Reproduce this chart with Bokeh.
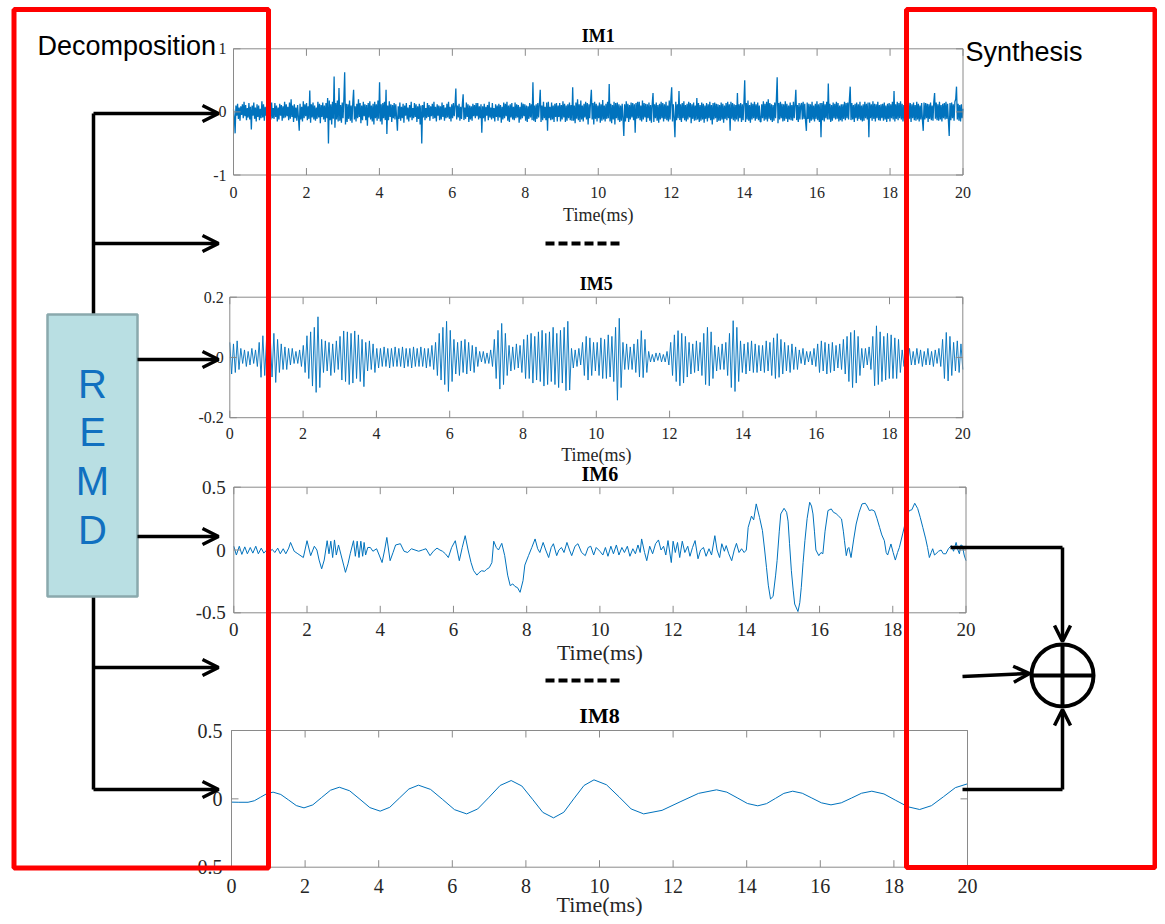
import numpy as np
from bokeh.plotting import figure
from bokeh.models import Range1d, Arrow, OpenHead
from bokeh.core.properties import value
from bokeh.embed import file_html
from bokeh.resources import INLINE

# ---------------- data ----------------
x_ticks = [0, 2, 4, 6, 8, 10, 12, 14, 16, 18, 20]
x_tick_labels = [str(v) for v in x_ticks]
x_label = "Time(ms)"

im1_title = "IM1"
im1_yticks = [-1, 0, 1]
im1_ylabels = ["-1", "0", "1"]
im1 = [
    0.04, -0.08, -0.34, 0.1, -0.06, 0.13, -0.11, 0.07, -0.14, 0.09, -0.05, 0.12, -0.1, 0.16, -0.07, 0.11, -0.13, 0.06, -0.09, 0.14, -0.12, 0.08, -0.28, 0.1, -0.06, 0.15, -0.11, 0.07, -0.15, 0.12, -0.08, 0.1, -0.13, 0.05, -0.1, 0.17, -0.09, 0.12, -0.14, 0.08, -0.06, 0.11, -0.16, 0.13, -0.07, 0.09, -0.12, 0.15, -0.1, 0.06,
    -0.11, 0.14, -0.08, 0.1, -0.15, 0.07, -0.12, 0.13, -0.06, 0.11, -0.14, 0.09, -0.1, 0.16, -0.09, 0.12, -0.07, 0.08, -0.13, 0.15, -0.11, 0.2, -0.08, 0.1, -0.16, 0.12, -0.1, 0.07, -0.14, 0.11, -0.09, -0.3, 0.13, -0.12, 0.08, -0.15, 0.17, -0.1, 0.12, -0.07, 0.14, -0.13, 0.09, -0.11, 0.34, -0.17, 0.12, -0.09, 0.15, -0.12,
    0.1, -0.14, 0.07, -0.11, 0.16, -0.09, 0.13, -0.18, 0.11, -0.08, 0.15, -0.12, 0.1, -0.16, 0.14, -0.1, 0.22, -0.5, 0.18, -0.13, 0.12, -0.2, 0.16, -0.11, 0.56, -0.25, 0.14, -0.12, 0.18, -0.15, 0.38, -0.14, 0.11, -0.17, 0.15, -0.1, 0.2, 0.63, -0.2, 0.13, -0.16, 0.12, -0.11, 0.18, -0.14, 0.1, -0.17, 0.15, 0.35, -0.12,
    0.09, -0.15, 0.13, -0.1, 0.2, -0.08, 0.14, -0.18, 0.1, -0.13, 0.16, -0.07, 0.12, -0.13, 0.11, -0.22, 0.14, -0.09, 0.17, -0.12, 0.1, -0.15, 0.13, -0.2, 0.16, -0.1, 0.12, -0.14, 0.18, -0.11, 0.47, -0.15, 0.12, -0.2, 0.14, -0.1, 0.16, -0.13, 0.35, -0.35, 0.1, -0.13, 0.17, -0.08, 0.12, -0.16, 0.11, -0.1, 0.14, -0.12,
    0.12, -0.09, -0.3, 0.09, -0.11, 0.15, -0.14, 0.08, -0.1, 0.13, -0.17, 0.1, -0.06, 0.14, -0.12, 0.07, -0.15, 0.11, -0.09, 0.16, -0.13, 0.06, -0.1, 0.14, -0.08, 0.12, -0.16, 0.09, -0.11, 0.13, -0.2, 0.1, -0.5, 0.11, -0.09, 0.16, -0.13, 0.06, -0.1, 0.14, -0.08, 0.11, -0.14, 0.09, -0.07, 0.13, -0.11, 0.16, -0.1, 0.08,
    -0.15, 0.12, -0.06, 0.1, -0.13, 0.09, -0.12, 0.15, -0.08, 0.11, -0.14, 0.07, -0.1, 0.13, -0.09, 0.16, -0.11, 0.08, -0.15, 0.12, -0.1, 0.14, -0.07, 0.1, 0.37, -0.12, 0.1, -0.09, 0.13, -0.14, 0.08, -0.11, 0.12, 0.28, -0.13, 0.07, -0.11, 0.15, -0.08, 0.12, -0.16, 0.1, -0.12, 0.09, -0.14, 0.13, -0.07, 0.11, -0.1, 0.14,
    -0.07, 0.14, -0.12, 0.09, -0.1, 0.12, -0.33, 0.09, -0.1, 0.13, -0.15, 0.08, -0.06, 0.11, -0.13, 0.16, -0.09, 0.07, -0.12, 0.14, -0.1, 0.06, -0.15, 0.12, -0.08, 0.1, -0.14, 0.13, -0.09, 0.11, -0.17, 0.08, -0.12, 0.15, -0.1, 0.13, -0.07, 0.16, -0.14, 0.1, -0.16, 0.12, -0.09, 0.14, -0.12, 0.08, -0.13, 0.15, -0.1, 0.12,
    -0.09, 0.11, -0.17, 0.08, -0.12, 0.15, -0.1, 0.13, -0.07, 0.12, -0.14, 0.1, -0.16, 0.09, -0.11, 0.14, -0.09, 0.12, -0.13, 0.47, -0.14, 0.1, -0.16, 0.12, -0.11, 0.14, -0.09, 0.12, 0.35, -0.16, 0.1, -0.13, 0.16, -0.1, 0.08, -0.13, 0.15, -0.3, 0.16, -0.1, 0.08, -0.13, 0.15, -0.12, 0.1, -0.16, 0.13, -0.08, 0.14, -0.15,
    0.1, -0.08, 0.14, -0.15, 0.11, -0.12, 0.17, -0.09, 0.13, -0.16, 0.1, -0.14, 0.12, -0.1, 0.15, -0.13, 0.11, -0.14, 0.39, -0.14, 0.1, -0.18, 0.15, -0.11, 0.2, -0.13, 0.12, -0.16, 0.18, -0.12, 0.1, -0.15, 0.13, -0.09, 0.16, -0.12, 0.14, -0.2, 0.12, -0.1, 0.17, 0.35, -0.12, 0.14, -0.2, 0.16, -0.11, 0.13, -0.15, 0.1,
    -0.1, 0.15, -0.17, 0.12, -0.14, 0.19, -0.12, 0.1, -0.15, 0.13, -0.11, 0.16, -0.1, 0.44, -0.15, 0.13, -0.18, 0.11, -0.12, 0.16, -0.2, 0.14, -0.1, 0.15, -0.13, 0.12, -0.16, 0.1, -0.14, 0.13, -0.11, -0.38, 0.12, -0.15, 0.17, -0.1, 0.13, -0.16, 0.11, -0.12, 0.15, -0.09, 0.14, -0.13, 0.12, -0.33, 0.14, -0.11, 0.16, -0.1,
    0.16, -0.13, 0.1, -0.15, 0.18, -0.12, 0.14, -0.09, 0.13, -0.16, 0.12, -0.1, 0.15, -0.14, 0.11, -0.17, 0.13, 0.3, -0.16, 0.12, -0.1, 0.15, -0.14, 0.11, -0.17, 0.13, -0.12, 0.16, -0.1, 0.14, -0.15, 0.12, -0.11, 0.16, -0.13, 0.1, -0.15, 0.18, -0.12, 0.2, 0.39, -0.15, 0.12, -0.1, -0.4, 0.16, -0.13, 0.12, -0.1, 0.33,
    -0.13, 0.12, -0.16, 0.14, -0.1, 0.17, -0.13, 0.11, -0.15, 0.13, -0.12, 0.16, -0.09, 0.14, -0.18, 0.12, -0.11, 0.15, -0.14, 0.1, -0.13, 0.22, -0.12, 0.14, -0.16, 0.11, -0.14, 0.15, -0.12, 0.13, -0.17, 0.1, -0.11, 0.14, -0.15, 0.12, -0.1, 0.16, -0.13, 0.11, -0.2, 0.14, -0.12, 0.15, -0.1, 0.13, -0.16, 0.12, -0.14, 0.11,
    -0.14, 0.15, -0.12, 0.13, -0.17, 0.1, -0.11, 0.14, -0.13, 0.16, -0.1, 0.12, -0.3, 0.16, -0.11, 0.14, -0.13, 0.12, -0.15, 0.11, -0.12, 0.3, -0.15, 0.12, -0.1, 0.14, -0.16, 0.12, -0.13, 0.15, 0.5, -0.16, 0.14, -0.12, 0.18, -0.14, 0.11, -0.17, 0.15, -0.12, 0.13, -0.1, 0.16, -0.14, 0.12, -0.11, 0.15, -0.13, 0.1, -0.15,
    -0.16, 0.12, -0.1, 0.17, -0.14, 0.13, -0.12, 0.16, -0.15, 0.2, -0.11, 0.14, -0.13, 0.12, -0.16, 0.11, -0.14, 0.15, -0.1, 0.2, 0.55, -0.18, 0.14, -0.12, 0.16, -0.1, 0.13, -0.15, 0.12, -0.14, 0.17, -0.11, 0.13, -0.16, 0.1, -0.12, 0.15, -0.13, 0.11, -0.14, 0.16, -0.1, 0.12, 0.35, -0.13, 0.11, -0.16, 0.14, -0.12, 0.1,
    0.14, -0.12, 0.16, -0.11, 0.13, -0.15, -0.3, 0.15, -0.11, 0.13, -0.17, 0.12, -0.14, 0.16, -0.12, 0.1, -0.15, 0.13, -0.11, 0.17, -0.13, 0.12, -0.16, 0.14, -0.4, 0.14, -0.13, 0.17, -0.15, 0.12, -0.1, 0.16, -0.12, 0.45, -0.12, 0.13, -0.16, 0.11, -0.14, 0.15, -0.1, 0.13, -0.12, 0.16, -0.11, 0.14, -0.15, 0.1, -0.13, 0.12,
    -0.15, 0.12, -0.11, 0.16, -0.13, 0.14, -0.1, 0.15, -0.12, 0.2, 0.4, -0.13, 0.14, -0.12, 0.11, -0.16, 0.13, -0.1, 0.15, -0.14, 0.12, -0.11, 0.16, -0.13, 0.1, -0.15, 0.12, -0.14, 0.16, -0.1, 0.13, -0.12, 0.15, -0.4, 0.15, -0.1, 0.12, -0.14, 0.17, -0.11, 0.13, -0.15, 0.12, -0.1, 0.16, -0.13, 0.11, -0.14, 0.12, -0.1,
    0.13, -0.14, 0.15, -0.12, 0.1, -0.16, 0.13, -0.11, 0.14, -0.15, 0.12, -0.1, 0.16, -0.12, 0.33, -0.15, 0.12, -0.11, 0.16, -0.13, 0.14, -0.1, 0.17, -0.12, 0.13, -0.15, 0.11, -0.14, 0.16, -0.12, 0.1, -0.13, 0.15, -0.11, 0.14, -0.16, 0.12, -0.1, 0.15, -0.13, 0.11, -0.14, 0.16, -0.12, 0.13, -0.15, 0.1, -0.12, 0.14, -0.13,
    -0.3, 0.15, -0.12, 0.14, -0.1, 0.13, -0.16, 0.12, -0.11, 0.15, -0.13, 0.1, -0.14, 0.16, 0.3, -0.11, 0.15, -0.13, 0.12, -0.14, 0.16, -0.12, 0.11, -0.15, 0.13, -0.1, 0.14, -0.12, 0.16, -0.11, 0.13, -0.14, -0.38, 0.14, -0.13, 0.15, -0.1, 0.12, -0.14, 0.16, 0.2, 0.4, -0.12, 0.13, -0.14, 0.11, -0.15, 0.12, -0.1, 0.05,
]

im5_title = "IM5"
im5_yticks = [-0.2, 0, 0.2]
im5_ylabels = ["-0.2", "0", "0.2"]
im5 = [
    0.05, -0.055, 0.045, -0.05, 0.055, -0.04,
    0.03, -0.02, 0.025, -0.03, 0.02, -0.025, 0.03, -0.02, 0.025, -0.03,
    0.05, -0.066, 0.072, -0.06,
    0.06, -0.07, 0.072, -0.065, 0.08, -0.083, 0.06, -0.05,
    0.045, -0.04, 0.035, -0.04, 0.03, -0.025, 0.03, -0.02, 0.02, -0.02, 0.025, -0.03,
    0.04, -0.05, 0.072, -0.07, 0.085, -0.095, 0.1, -0.116, 0.135, -0.1,
    0.06, -0.05, 0.055, -0.045, 0.05, -0.06, 0.045, -0.05, 0.055, -0.04,
    0.07, -0.075, 0.088, -0.08, 0.085, -0.09, 0.08, -0.085, 0.088, -0.07, 0.075, -0.08, 0.06, -0.097,
    0.05, -0.045, 0.055, -0.04, 0.045, -0.05,
    0.03, -0.035, 0.03, -0.03, 0.035, -0.03, 0.03, -0.035, 0.03, -0.03, 0.035, -0.03, 0.03, -0.03, 0.035, -0.035,
    0.03, -0.03, 0.03, -0.035, 0.035, -0.03, 0.03, -0.03, 0.035, -0.03, 0.03, -0.035, 0.03, -0.03, 0.04, -0.04,
    0.05, -0.06, 0.08, -0.075, 0.1, -0.09, 0.12, -0.113, 0.09, -0.08,
    0.06, -0.055, 0.05, -0.06, 0.055, -0.05, 0.06, -0.055, 0.05, -0.045, 0.04, -0.05, 0.035, -0.03,
    0.02, -0.015, 0.02, -0.02, 0.015, -0.02, 0.025, -0.03,
    0.06, -0.07, 0.09, -0.105, 0.113, -0.09, 0.08, -0.06,
    0.04, -0.045, 0.035, -0.04, 0.045, -0.035, 0.04, -0.05,
    0.06, -0.07, 0.075, -0.07, 0.08, -0.085, 0.07, -0.075, 0.085, -0.08, 0.09, -0.095, 0.08,
    -0.09, 0.085, -0.08, 0.1, -0.09, 0.08, -0.1, 0.09, -0.085, 0.1, -0.11, 0.12, -0.108,
    0.03, -0.035, 0.025, -0.03, 0.03, -0.025,
    0.05, -0.06, 0.07, -0.075, 0.065, -0.06, 0.05, -0.045,
    0.05, -0.06, 0.065, -0.07, 0.06, -0.07, 0.075, -0.065, 0.07, -0.08,
    0.1, -0.142, 0.13, -0.1,
    0.05, -0.04, 0.045, -0.04, 0.035, -0.04, 0.045, -0.05,
    0.06, -0.065, 0.089, -0.067, 0.06, -0.05,
    0.02, -0.015, 0.01, -0.015, 0.015, -0.01, 0.015, -0.015, 0.01, -0.015, 0.02, -0.025,
    0.05, -0.06, 0.075, -0.08, 0.089, -0.094, 0.08, -0.085, 0.07, -0.065,
    0.05, -0.055, 0.045, -0.05, 0.055, -0.045, 0.05, -0.06,
    0.08, -0.09, 0.1, -0.094, 0.085, -0.07,
    0.04, -0.045, 0.035, -0.04, 0.045, -0.04, 0.05, -0.06,
    0.08, -0.1, 0.122, -0.113, 0.1, -0.08,
    0.055, -0.05, 0.045, -0.055, 0.05, -0.045, 0.055, -0.05, 0.045, -0.05, 0.04, -0.045,
    0.04, -0.05, 0.055, -0.045, 0.05, -0.06, 0.065, -0.07, 0.079, -0.066,
    0.06, -0.055, 0.05, -0.045, 0.04, -0.05, 0.045, -0.04, 0.035, -0.04,
    0.025, -0.02, 0.03, -0.025, 0.02, -0.015, 0.02, -0.025, 0.03, -0.03,
    0.045, -0.05, 0.055, -0.045, 0.05, -0.055, 0.045, -0.05, 0.05, -0.045,
    0.04, -0.035, 0.045, -0.04, 0.06, -0.055,
    0.07, -0.08, 0.083, -0.1, 0.09, -0.085, 0.07, -0.06,
    0.03, -0.035, 0.03, -0.025, 0.035, -0.04,
    0.07, -0.094, 0.105, -0.09, 0.085, -0.08,
    0.07, -0.075, 0.08, -0.07, 0.075, -0.07, 0.065, -0.07, 0.06, -0.05,
    0.025, -0.03, 0.025, -0.02, 0.03, -0.025, 0.02, -0.025, 0.03, -0.02, 0.025,
    -0.03, 0.02, -0.025, 0.03, -0.025, 0.02, -0.03, 0.025, -0.02, 0.03, -0.03,
    0.06, -0.07, 0.083, -0.078, 0.07, -0.06,
    0.05, -0.045, 0.055, -0.05, 0.045, -0.04,
]

im6_title = "IM6"
im6_yticks = [-0.5, 0, 0.5]
im6_ylabels = ["-0.5", "0", "0.5"]
im6_t = [
    0, 0.07, 0.15, 0.22, 0.3, 0.37, 0.45, 0.52, 0.6, 0.67, 0.75, 0.82, 0.9, 0.97, 1.05, 1.12, 1.2, 1.27, 1.35, 1.42, 1.5,
    1.55, 1.65, 1.75, 1.9, 2.0, 2.1, 2.2, 2.27, 2.33, 2.4,
    2.47, 2.55, 2.6, 2.65, 2.7, 2.75, 2.8, 2.86, 2.93, 3.0,
    3.05, 3.12, 3.18, 3.27, 3.32, 3.37, 3.42, 3.47, 3.52, 3.56,
    3.6, 3.66, 3.73, 3.8, 3.9, 3.97, 4.05, 4.12, 4.18, 4.27,
    4.35, 4.42, 4.55, 4.65, 4.75, 4.85, 4.95, 5.05, 5.15, 5.25,
    5.36, 5.45, 5.55, 5.63, 5.7, 5.78, 5.86, 5.95, 6.05, 6.1,
    6.16, 6.24, 6.32, 6.4, 6.48, 6.55, 6.64, 6.7, 6.77, 6.85,
    6.9, 6.98, 7.05, 7.1, 7.17, 7.23, 7.32, 7.4, 7.48, 7.55,
    7.62, 7.68, 7.75, 7.82, 7.9, 7.95, 8.05, 8.14, 8.23, 8.3,
    8.36, 8.45, 8.52, 8.6, 8.67, 8.73, 8.82, 8.88, 8.95, 9.02,
    9.1, 9.17, 9.23, 9.32, 9.4, 9.5, 9.6, 9.68, 9.75, 9.83,
    9.9, 10.0,
    10.08, 10.15, 10.22, 10.3, 10.37, 10.45, 10.52, 10.6, 10.67, 10.75,
    10.82, 10.9, 10.97, 11.04, 11.1, 11.14, 11.22, 11.28, 11.36, 11.44,
    11.52, 11.6, 11.67, 11.74, 11.8, 11.86, 11.95, 12.0, 12.06, 12.12,
    12.18, 12.25, 12.32, 12.4, 12.46, 12.53, 12.6, 12.68, 12.75, 12.83,
    12.9, 12.98, 13.05, 13.14, 13.2, 13.27, 13.33, 13.4, 13.45, 13.52,
    13.6, 13.67, 13.73, 13.8, 13.87, 13.94, 14.0,
    14.05, 14.14, 14.2, 14.27, 14.36, 14.44, 14.5, 14.55, 14.6, 14.66,
    14.73, 14.8, 14.84, 14.9, 14.94, 15.03, 15.1, 15.14, 15.18, 15.23,
    15.28, 15.32, 15.41, 15.46, 15.5, 15.55, 15.6, 15.66, 15.73, 15.78,
    15.82, 15.86, 15.9, 15.98, 16.04, 16.09, 16.15, 16.23, 16.32, 16.38,
    16.45, 16.52, 16.6, 16.65, 16.68, 16.73, 16.77, 16.8, 16.86, 16.93,
    17.0, 17.08, 17.16, 17.25, 17.3, 17.36, 17.43, 17.5, 17.57, 17.64,
    17.7, 17.77, 17.82, 17.86, 17.95, 18.01, 18.07, 18.13, 18.18, 18.27,
    18.36, 18.45, 18.52, 18.6, 18.68, 18.75, 18.82, 18.9, 18.95, 19.0,
    19.05, 19.09, 19.14, 19.18, 19.25, 19.32, 19.38, 19.45, 19.52, 19.6,
    19.66, 19.73, 19.78, 19.82, 19.86, 19.9, 19.95, 20.0,
]
im6_v = [
    0.03, -0.04, 0.03, -0.035, 0.025, -0.03, 0.02, -0.025, 0.03, -0.03, 0.015, -0.025, 0.0, -0.015, 0.005, -0.02, 0.015, -0.03, 0.01, -0.03, 0.015,
    0.06, -0.01, -0.03, -0.06, 0.074, -0.045, 0.03, 0.0, -0.08, -0.15,
    -0.08, 0.074, -0.03, 0.07, -0.06, 0.08, -0.04, 0.04, -0.04, -0.12,
    -0.178, -0.11, -0.03, 0.074, -0.05, 0.07, -0.06, 0.07, -0.05, 0.06,
    -0.04, 0.02, 0.02, -0.01, 0.01, -0.04, -0.1, 0.0, 0.1, -0.085,
    -0.02, 0.04, 0.05, -0.01, -0.02, 0.01, 0.0, -0.01, 0.0, 0.01,
    -0.045, -0.01, 0.015, 0.0, -0.01, -0.03, -0.06, 0.02, 0.074, 0.0,
    -0.085, 0.02, 0.114, 0.0, -0.1, -0.164, -0.2, -0.18, -0.165, -0.17,
    -0.155, -0.14, -0.1, 0.07, 0.02, 0.0, 0.053, -0.045, -0.2, -0.284,
    -0.27, -0.29, -0.3, -0.337, -0.244, -0.12, -0.045, 0.02, 0.088, 0.01,
    -0.02, 0.06, 0.0, -0.06, 0.02, 0.05, -0.045, 0.0, 0.02, -0.02,
    0.06, 0.0, -0.045, 0.03, 0.05, -0.02, -0.045, 0.02, 0.03, -0.04,
    0.02, -0.01,
    -0.04, 0.02, -0.05, 0.03, -0.03, 0.04, -0.04, 0.02, -0.02, 0.03,
    -0.05, 0.01, -0.03, 0.04, -0.02, 0.088, -0.02, -0.085, 0.03, -0.03,
    0.05, 0.08, 0.0, 0.03, -0.04, 0.075, -0.1, 0.07, -0.02, 0.06,
    -0.06, 0.07, -0.02, 0.03, -0.05, 0.02, 0.075, -0.07, 0.0, 0.02,
    -0.05, 0.01, -0.04, 0.114, 0.0, -0.06, 0.05, -0.01, 0.035, -0.03,
    -0.085, 0.0, 0.053, -0.02, 0.01, -0.02, 0.0,
    0.18, 0.27, 0.24, 0.367, 0.26, 0.154, 0.0, -0.138, -0.28, -0.39,
    -0.37, -0.2, -0.085, 0.15, 0.287, 0.332, 0.3, 0.23, 0.05, -0.165,
    -0.32, -0.43, -0.49, -0.42, -0.3, -0.1, 0.074, 0.25, 0.38, 0.35,
    0.287, 0.15, 0.0, -0.045, -0.02, -0.03, 0.15, 0.314, 0.327, 0.3,
    0.29, 0.27, 0.247, 0.15, 0.074, -0.045, 0.01, 0.02, -0.06, 0.08,
    0.207, 0.3, 0.367, 0.372, 0.35, 0.314, 0.32, 0.31, 0.25, 0.18,
    0.12, 0.074, -0.02, -0.04, 0.048, -0.02, -0.08, -0.02, 0.02, 0.128,
    0.24, 0.314, 0.32, 0.372, 0.33, 0.26, 0.18, 0.088, 0.02, -0.06,
    -0.02, 0.01, -0.04, -0.03, -0.01, 0.0, -0.03, -0.03, 0.01, 0.035,
    -0.01, 0.06, 0.0, -0.03, 0.04, 0.035, -0.04, -0.085,
]

im8_title = "IM8"
im8_yticks = [-0.5, 0, 0.5]
im8_ylabels = ["-0.5", "0", "0.5"]
im8_t = [0, 0.2, 0.45, 0.62, 0.79, 0.96, 1.13, 1.34, 1.55, 1.76, 1.97, 2.21, 2.45, 2.69, 2.93,
         3.21, 3.49, 3.76, 4.04, 4.30, 4.56, 4.82, 5.08, 5.41, 5.74, 6.06, 6.39, 6.69, 7.0, 7.3,
         7.6, 7.89, 8.18, 8.46, 8.75, 9.03, 9.3, 9.58, 9.85, 10.19, 10.53, 10.86, 11.2, 11.7,
         12.19, 12.69, 13.18, 13.46, 13.74, 14.02, 14.3, 14.54, 14.78, 15.01, 15.25, 15.51,
         15.77, 16.03, 16.29, 16.57, 16.85, 17.12, 17.4, 17.73, 18.05, 18.38, 18.7, 19.02,
         19.35, 19.67, 20.0]
im8_v = [-0.024, -0.025, -0.025, -0.014, 0.012, 0.038, 0.049, 0.032, -0.008, -0.049, -0.066,
         -0.044, 0.010, 0.063, 0.085, 0.059, -0.003, -0.064, -0.090, -0.062, 0.005, 0.072,
         0.100, 0.069, -0.005, -0.079, -0.110, -0.074, 0.012, 0.098, 0.134, 0.094, -0.003,
         -0.099, -0.139, -0.098, 0.000, 0.098, 0.139, 0.103, 0.015, -0.074, -0.110, -0.084,
         -0.022, 0.040, 0.066, 0.049, 0.008, -0.034, -0.051, -0.035, 0.003, 0.040, 0.056,
         0.041, 0.006, -0.029, -0.044, -0.029, 0.006, 0.041, 0.056, 0.036, -0.011, -0.058,
         -0.078, -0.050, 0.016, 0.082, 0.110]

# uniformly sampled series: sample times
im1_t = np.linspace(0, 20, len(im1))
im5_t = np.linspace(0, 20, len(im5))

# ---------------- styling / layout ----------------
SIG = "#0072BD"
AX = "#8a8a8a"
TXT = "#262626"
SERIF = value("Liberation Serif")
SANS = value("Liberation Sans")

W, H = 1157, 916
FX0, FX1, FY0, FY1 = 0, W, 0, H   # canvas extent in picture pixels

p = figure(width=W, height=H, output_backend="svg", toolbar_location=None,
           x_range=Range1d(FX0, FX1), y_range=Range1d(FY1, FY0),
           x_axis_type=None, y_axis_type=None, min_border=0,
           outline_line_color=None, background_fill_color="white")

# name, t, v, x-pixel box, y-pixel box, (vmin, vmax), yticks, ylabels, title,
# tick font, label font, title font, tick dy, label dy, title dy, ylab dx, signal width
panels = [
    ("im1", im1_t, im1, (233.0, 962.5), (48.3, 174.5), (-1, 1), im1_yticks, im1_ylabels, im1_title,
     "16px", "18px", "18px", 17, 40, -13, -7, 1.3),
    ("im5", im5_t, im5, (229.3, 962.3), (296.7, 417.2), (-0.2, 0.2), im5_yticks, im5_ylabels, im5_title,
     "16px", "18px", "18px", 16, 37, -13, -6, 0.9),
    ("im6", im6_t, im6_v, (233.3, 965.5), (486.7, 612.3), (-0.5, 0.5), im6_yticks, im6_ylabels, im6_title,
     "19px", "22px", "20px", 17, 40, -13, -8, 1),
    ("im8", im8_t, im8_v, (231.0, 967.0), (730.0, 866.7), (-0.5, 0.5), im8_yticks, im8_ylabels, im8_title,
     "20px", "22px", "22px", 19, 37, -15, -9, 1),
]

xr, yr = {}, {}
for (name, t, v, (a, b), (ta, tb), (vmin, vmax), *_rest) in panels:
    kx = 20.0 / (b - a)
    ky = (vmax - vmin) / (tb - ta)
    xr[name] = Range1d((FX0 - a) * kx, (FX1 - a) * kx)
    yr[name] = Range1d(vmax - (FY1 - ta) * ky, vmax - (FY0 - ta) * ky)
p.extra_x_ranges = xr
p.extra_y_ranges = yr

TL = 7  # tick length px
for (name, t, v, (a, b), (ta, tb), (vmin, vmax), yt, yl, title,
     fs_tick, fs_lab, fs_title, dy_tick, dy_lab, dy_title, dx_ylab, sw) in panels:
    kx = 20.0 / (b - a)
    ky = (vmax - vmin) / (tb - ta)
    rn = dict(x_range_name=name, y_range_name=name)
    p.line(list(t), list(v), line_color=SIG, line_width=sw, **rn)
    p.quad(left=[0], right=[20], bottom=[vmin], top=[vmax], fill_color=None,
           line_color=AX, line_width=1, **rn)
    n = len(x_ticks)
    p.segment(x0=x_ticks, y0=[vmin] * n, x1=x_ticks, y1=[vmin + TL * ky] * n, line_color=AX, **rn)
    p.segment(x0=x_ticks, y0=[vmax] * n, x1=x_ticks, y1=[vmax - TL * ky] * n, line_color=AX, **rn)
    m = len(yt)
    p.segment(x0=[0] * m, y0=yt, x1=[TL * kx] * m, y1=yt, line_color=AX, **rn)
    p.segment(x0=[20] * m, y0=yt, x1=[20 - TL * kx] * m, y1=yt, line_color=AX, **rn)
    p.text(x=x_ticks, y=[vmin] * n, text=x_tick_labels, y_offset=dy_tick,
           text_align="center", text_baseline="middle", text_font=SERIF,
           text_font_size=fs_tick, text_color=TXT, **rn)
    p.text(x=[0] * m, y=yt, text=yl, x_offset=dx_ylab, text_align="right",
           text_baseline="middle", text_font=SERIF, text_font_size=fs_tick,
           text_color=TXT, **rn)
    p.text(x=[10], y=[vmin], text=[x_label], y_offset=dy_lab, text_align="center",
           text_baseline="middle", text_font=SERIF, text_font_size=fs_lab,
           text_color=TXT, **rn)
    p.text(x=[10], y=[vmax], text=[title], y_offset=dy_title, text_align="center",
           text_baseline="middle", text_font=SERIF, text_font_size=fs_title,
           text_font_style="bold", text_color="black", **rn)

# ---------------- diagram ----------------
LW = 3.5
# REMD trunk
p.line(x=[93, 93], y=[113, 789], line_color="black", line_width=LW)
# REMD box
p.quad(left=[47], right=[137], top=[314], bottom=[596], fill_color="#b9dfe3",
       line_color="#8aa9ad", line_width=2.5)
p.text(x=[92] * 4, y=[383, 431, 480, 529], text=["R", "E", "M", "D"],
       text_align="center", text_baseline="middle", text_font=SANS,
       text_font_size="40px", text_color="#1170c0")

# decomposition arrows
for (xs, ys) in [(93, 113), (93, 243), (137, 359), (137, 536), (93, 667), (93, 789)]:
    p.add_layout(Arrow(end=OpenHead(size=16, line_width=LW, line_color="black"),
                       x_start=xs, y_start=ys, x_end=218, y_end=ys,
                       line_width=LW, line_color="black"))

# dashed "more modes" markers
p.line(x=[545, 622], y=[243, 243], line_color="black", line_width=4, line_dash="9 4")
p.line(x=[545, 622], y=[680, 680], line_color="black", line_width=4, line_dash="9 4")

# synthesis
p.line(x=[950, 1062], y=[547, 547], line_color="black", line_width=LW)
p.line(x=[962, 1062], y=[789, 789], line_color="black", line_width=LW)
p.scatter(x=[1062], y=[675], marker="circle", size=62, fill_color=None,
          line_color="black", line_width=4)
p.line(x=[1031, 1093], y=[675, 675], line_color="black", line_width=4)
p.line(x=[1062, 1062], y=[644, 706], line_color="black", line_width=4)
for (x0, y0, x1, y1) in [(1062, 547, 1062, 641), (1062, 789, 1062, 709), (962, 676, 1029, 673)]:
    p.add_layout(Arrow(end=OpenHead(size=16, line_width=LW, line_color="black"),
                       x_start=x0, y_start=y0, x_end=x1, y_end=y1,
                       line_width=LW, line_color="black"))

# red frames
p.quad(left=[13.5, 906], right=[268, 1154.5], top=[9, 9], bottom=[867.5, 867],
       fill_color=None, line_color="#ff0000", line_width=5)

p.text(x=[37], y=[45], text=["Decomposition"], text_font=SANS, text_font_size="27px",
       text_baseline="alphabetic", text_color="black")
p.text(x=[965], y=[51], text=["Synthesis"], text_font=SANS, text_font_size="27px",
       text_baseline="alphabetic", text_color="black")

open("out.html", "w").write(file_html(p, INLINE))
